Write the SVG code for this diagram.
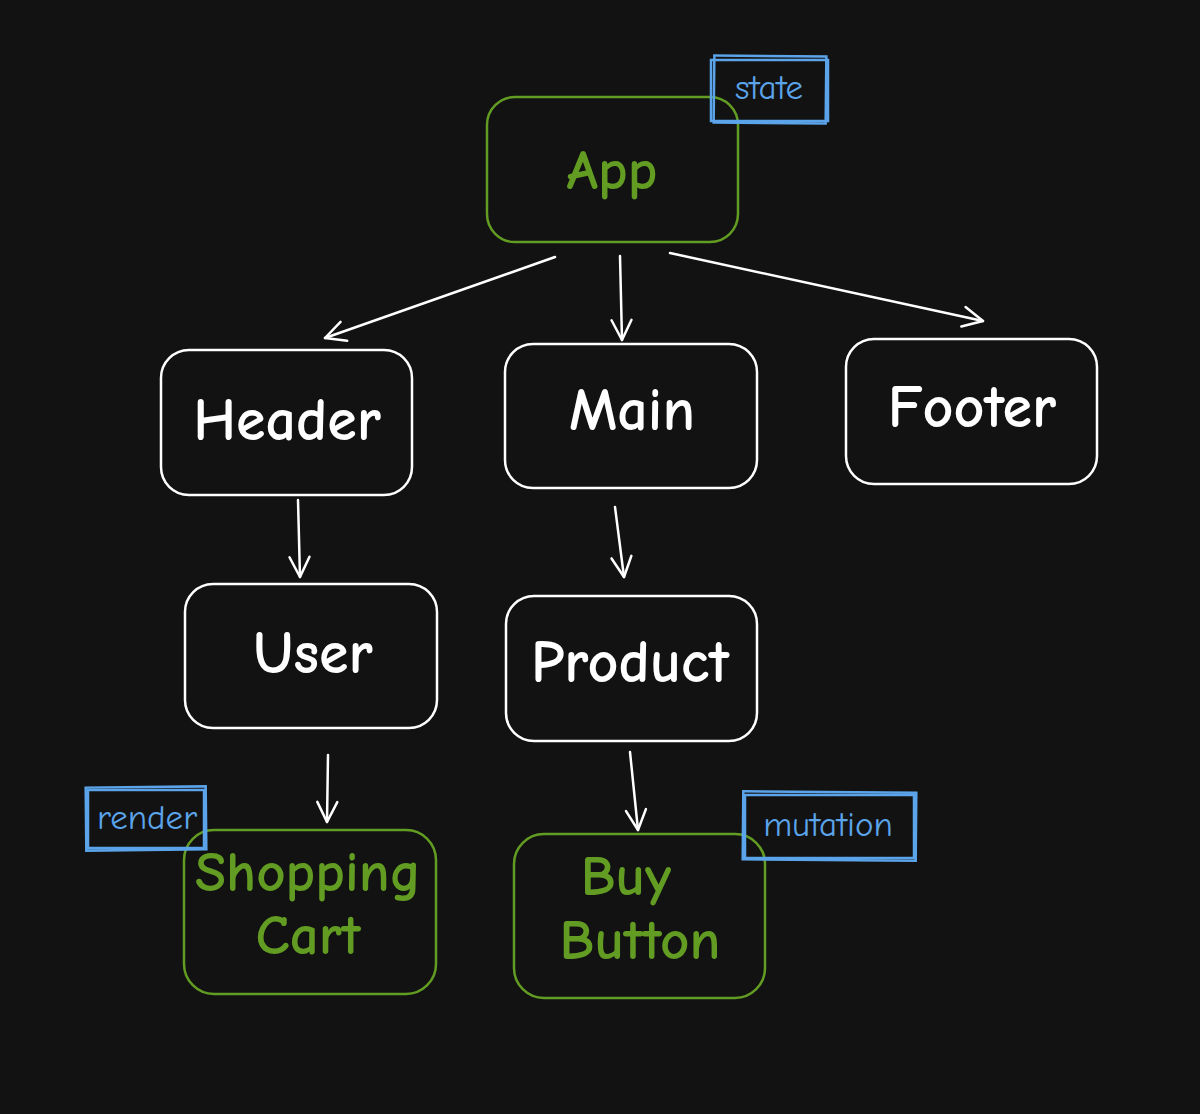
<svg xmlns="http://www.w3.org/2000/svg" width="1200" height="1114" viewBox="0 0 1200 1114">
<style>
.node{fill:none;stroke:#ffffff;stroke-width:2.5}
.green{fill:none;stroke:#629c22;stroke-width:2.5}
.t{font-family:"Comic Neue","Liberation Sans",sans-serif;font-weight:bold;font-size:60px;fill:#ffffff;text-anchor:middle;dominant-baseline:central}
.tg{font-family:"Comic Neue","Liberation Sans",sans-serif;font-weight:bold;font-size:57px;fill:#629c22;text-anchor:middle;dominant-baseline:central}
.tag{fill:none;stroke:#5ba4ea;stroke-width:2.5}
.tt{font-family:"Comic Neue","Liberation Sans",sans-serif;font-size:35px;fill:#5ba4ea;text-anchor:middle;dominant-baseline:central}
.edge{fill:none;stroke:#ffffff;stroke-width:2.5;stroke-linecap:round}
</style>
<defs>
<marker id="arr" viewBox="0 0 24 24" refX="22" refY="12" markerWidth="24" markerHeight="24" markerUnits="userSpaceOnUse" orient="auto">
<path d="M2,2 L22,12 L2,22" fill="none" stroke="#ffffff" stroke-width="2.5" stroke-linecap="round" stroke-linejoin="round"/>
</marker>
</defs>
<rect width="1200" height="1114" fill="#121212"/>
<g id="connectors">
<path class="edge" d="M555,257 L325,338" marker-end="url(#arr)"/>
<path class="edge" d="M620,256 L622,340" marker-end="url(#arr)"/>
<path class="edge" d="M670,253 L983,321" marker-end="url(#arr)"/>
<path class="edge" d="M298,500 L300,577" marker-end="url(#arr)"/>
<path class="edge" d="M615,507 L624,577" marker-end="url(#arr)"/>
<path class="edge" d="M328,755 L327,822" marker-end="url(#arr)"/>
<path class="edge" d="M630,752 L638,830" marker-end="url(#arr)"/>
</g>
<g id="app">
<rect class="green" x="487" y="97" width="251" height="145" rx="28"/>
<text class="tg" x="612" y="170">App</text>
</g>
<g id="state-tag">
<rect class="tag" x="711" y="60" width="117" height="61"/>
<rect class="tag" x="714" y="56" width="112" height="67" transform="rotate(0.6 770 90)"/>
<text class="tt" x="769" y="87">state</text>
</g>
<g id="header">
<rect class="node" x="161" y="350" width="251" height="145" rx="28"/>
<text class="t" x="287" y="420">Header</text>
</g>
<g id="main">
<rect class="node" x="505" y="344" width="252" height="144" rx="28"/>
<text class="t" x="632" y="410">Main</text>
</g>
<g id="footer">
<rect class="node" x="846" y="339" width="251" height="145" rx="28"/>
<text class="t" x="972" y="407">Footer</text>
</g>
<g id="user">
<rect class="node" x="185" y="584" width="252" height="144" rx="28"/>
<text class="t" x="313" y="653">User</text>
</g>
<g id="product">
<rect class="node" x="506" y="596" width="251" height="145" rx="28"/>
<text class="t" x="630" y="662">Product</text>
</g>
<g id="shopping-cart">
<rect class="green" x="184" y="830" width="252" height="164" rx="30"/>
<text class="tg" x="308" y="872">Shopping</text>
<text class="tg" x="308" y="935">Cart</text>
</g>
<g id="render-tag">
<rect class="tag" x="88" y="790" width="116" height="58"/>
<rect class="tag" x="86" y="787" width="120" height="63" transform="rotate(-0.6 146 818)"/>
<text class="tt" x="147" y="817">render</text>
</g>
<g id="buy-button">
<rect class="green" x="514" y="834" width="251" height="164" rx="30"/>
<text class="tg" x="626" y="876">Buy</text>
<text class="tg" x="640" y="940">Button</text>
</g>
<g id="mutation-tag">
<rect class="tag" x="745" y="795" width="169" height="63"/>
<rect class="tag" x="743" y="792" width="173" height="68" transform="rotate(0.5 829 826)"/>
<text class="tt" x="828" y="824">mutation</text>
</g>
</svg>
